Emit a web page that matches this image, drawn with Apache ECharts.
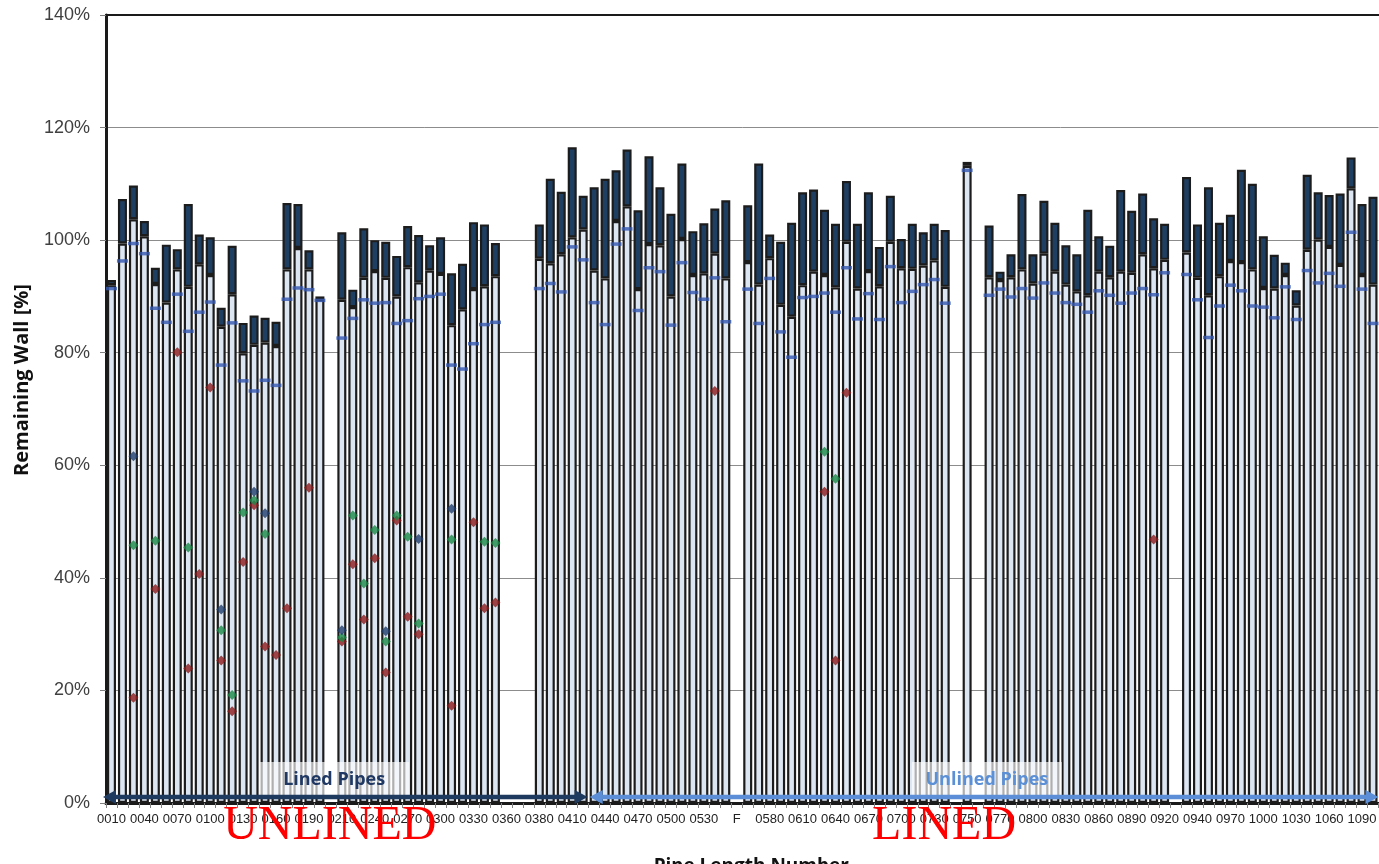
<!DOCTYPE html>
<html><head><meta charset="utf-8">
<script src="https://cdn.jsdelivr.net/npm/echarts@6/dist/echarts.min.js"></script>
<style>html,body{margin:0;padding:0;background:#fff;overflow:hidden}#c{width:1379px;height:864px}</style>
</head><body><div id="c"></div>
<script>
// ---------- DATA ----------
const categories = [
 "0010","0020","0030","0040","0050","0060","0070","0080","0090","0100","0110","0120","0130","0140","0150","0160","0170","0180","0190","0200",
 "0205",
 "0210","0220","0230","0240","0250","0260","0270","0280","0290","0300","0310","0320","0330","0340","0350","0360",
 "0370","0375",
 "0380","0390","0400","0410","0420","0430","0440","0450","0460","0470","0480","0490","0500","0510","0520","0530","0540","0550",
 "F",
 "0560","0570","0580","0590","0600","0610","0620","0630","0640","0650","0660","0670","0680","0690","0700","0710","0720","0730","0740",
 "0745","0750","0755",
 "0760","0770","0780","0790","0800","0810","0820","0830","0840","0850","0860","0870","0880","0890","0900","0910","0920",
 "0925",
 "0930","0940","0950","0960","0970","0980","0990","1000","1010","1020","1030","1040","1050","1060","1070","1080","1090","1100"
];
const yTicks = [0,20,40,60,80,100,120,140];

// top of dark segment (maximum remaining wall, %)
const maxWall = [
 92.9,107.3,109.7,103.4,95.1,99.2,98.4,106.4,101.0,100.5,88.0,99.0,85.3,86.6,86.2,85.5,106.6,106.4,98.2,90.0,
 null,
 101.4,91.2,102.1,100.0,99.7,97.2,102.5,100.9,99.1,100.5,94.1,95.8,103.2,102.8,99.5,
 null,null,null,
 102.8,110.9,108.6,116.5,107.9,109.4,110.9,112.4,116.1,105.3,114.9,109.4,104.7,113.6,101.6,103.0,105.6,107.1,
 null,
 106.2,113.6,101.0,99.7,103.1,108.5,109.0,105.4,102.9,110.5,102.9,108.5,98.8,107.9,100.2,102.9,101.4,102.9,101.8,
 null,113.9,null,
 102.6,94.4,97.5,108.2,97.5,107.0,103.1,99.1,97.5,105.4,100.7,99.0,108.9,105.2,108.3,103.9,102.9,
 null,
 111.2,102.8,109.4,103.1,104.5,112.5,110.0,100.7,97.4,96.0,91.1,111.6,108.5,108.0,108.3,114.7,106.4,107.7
];
// top of light segment (average remaining wall, %)
const avgWall = [
 92.0,99.4,103.7,100.7,92.2,88.9,94.8,91.7,95.7,93.8,84.6,90.4,79.9,81.4,81.8,81.2,94.8,98.6,94.8,89.5,
 null,
 89.4,88.1,93.3,94.5,93.3,90.0,95.2,92.5,94.6,94.0,84.9,87.7,91.3,91.8,93.6,
 null,null,null,
 96.7,95.9,97.5,100.5,101.9,94.6,93.2,103.4,106.0,91.3,99.3,99.1,90.0,100.2,93.8,94.1,97.6,93.2,
 null,
 96.1,92.1,96.8,88.5,86.4,92.0,94.4,93.8,91.6,99.7,91.4,94.5,91.8,99.7,95.0,94.9,95.5,96.4,91.7,
 null,113.2,null,
 93.4,92.9,93.4,94.8,92.3,97.6,94.4,92.1,90.9,90.2,94.4,93.4,94.4,94.2,97.5,95.0,96.5,
 null,
 97.8,93.3,90.2,93.6,96.3,96.1,94.8,91.5,91.4,93.8,88.4,98.3,100.1,98.8,95.6,109.2,93.8,92.1
];
// blue dash marker (%)
const dashWall = [
 91.4,96.3,99.4,97.6,87.9,85.4,90.4,83.8,87.2,89.0,77.8,85.3,75.0,73.2,75.1,74.2,89.5,91.5,91.2,89.3,
 null,
 82.6,86.1,89.4,88.8,88.9,85.2,85.7,89.6,90.0,90.4,77.8,77.1,81.6,85.0,85.4,
 null,null,null,
 91.4,92.3,90.8,98.8,96.5,88.9,85.0,99.3,102.0,87.5,95.1,94.4,84.9,96.0,90.7,89.5,93.3,85.5,
 null,
 91.3,85.2,93.2,83.7,79.2,89.8,90.0,90.6,87.2,95.1,86.0,90.5,85.9,95.3,88.9,90.9,92.1,93.0,88.8,
 null,112.4,null,
 90.2,91.3,89.9,91.4,89.7,92.4,90.6,88.9,88.6,87.2,91.0,90.2,88.8,90.6,91.4,90.3,94.2,
 null,
 93.9,89.4,82.7,88.3,92.0,91.0,88.3,88.1,86.2,91.7,85.9,94.6,92.4,94.1,91.8,101.4,91.3,85.2
];
// diamond markers [pipe, %]
const pitRed = [
 ["0030",18.7],["0050",38.0],["0070",80.1],["0080",23.9],["0090",40.7],["0100",73.8],["0110",25.3],["0120",16.3],
 ["0130",42.8],["0140",52.9],["0150",27.8],["0160",26.3],["0170",34.6],["0190",56.0],
 ["0210",28.7],["0220",42.4],["0230",32.6],["0240",43.5],["0250",23.2],["0260",50.2],["0270",33.1],["0280",30.0],
 ["0310",17.3],["0330",49.9],["0340",34.6],["0350",35.6],
 ["0540",73.2],["0630",55.3],["0640",25.3],["0650",72.9],["0910",46.8]
];
const pitGreen = [
 ["0030",45.8],["0050",46.6],["0080",45.4],["0110",30.7],["0120",19.2],["0130",51.6],["0140",53.8],["0150",47.8],
 ["0210",29.4],["0220",51.1],["0230",39.0],["0240",48.5],["0250",28.7],["0260",51.1],["0270",47.3],["0280",31.9],
 ["0310",46.8],["0340",46.4],["0350",46.2],
 ["0630",62.4],["0640",57.6]
];
const pitNavy = [
 ["0030",61.6],["0110",34.4],["0140",55.3],["0150",51.5],["0210",30.7],["0250",30.5],["0280",46.9],["0310",52.3]
];
const linedLabel = "Lined Pipes";
const unlinedLabel = "Unlined Pipes";

// ---------- CHART ----------
const NARROW = "'Liberation Sans','Arial',sans-serif";
const BOLD = "'Open Sans','Liberation Sans',sans-serif";
const darkPart = maxWall.map((m, i) => m == null ? null : +(m - avgWall[i]).toFixed(1));
const chart = echarts.init(document.getElementById('c'), null, {renderer: 'canvas', width: 1379, height: 864});
const diamond = (data, color) => ({
  type: 'scatter', data: data, symbol: 'diamond', symbolSize: [10, 10],
  itemStyle: {color: color}, z: 5, silent: true
});
chart.setOption({
  animation: false,
  grid: {left: 106, right: 0.5, top: 15, bottom: 61, containLabel: false, outerBoundsMode: 'none'},
  xAxis: [{
    type: 'category', data: categories, boundaryGap: true,
    axisLine: {lineStyle: {color: '#1a1a1a', width: 3}},
    axisTick: {show: true, interval: 0, length: 5, lineStyle: {color: '#808080'}},
    axisLabel: {interval: 2, fontFamily: NARROW, fontSize: 13, color: '#222', margin: 10, hideOverlap: false},
    name: 'Pipe Length Number', nameLocation: 'middle', nameGap: 54,
    nameTextStyle: {fontFamily: BOLD, fontWeight: 'bold', fontSize: 19, color: '#111', padding: [0, 0, 0, 18]}
  }, {
    type: 'category', data: categories, position: 'top',
    axisLine: {lineStyle: {color: '#1a1a1a', width: 2}}, axisTick: {show: false}, axisLabel: {show: false}
  }],
  yAxis: {
    type: 'value', min: yTicks[0], max: yTicks[yTicks.length - 1], interval: yTicks[1] - yTicks[0],
    axisLine: {show: true, lineStyle: {color: '#1a1a1a', width: 3}},
    axisTick: {show: true, length: 6, lineStyle: {color: '#808080'}},
    axisLabel: {formatter: '{value}%', fontFamily: NARROW, fontSize: 18, color: '#404040', margin: 16},
    splitLine: {lineStyle: {color: '#8c8c8c', width: 1}}
  },
  series: [
    {type: 'bar', stack: 'w', data: avgWall, barWidth: 9,
     itemStyle: {color: '#dce6f2', borderColor: '#1c1c1c', borderWidth: 2.2}},
    {type: 'bar', stack: 'w', data: darkPart, barWidth: 9,
     itemStyle: {color: '#1f3f62', borderColor: '#1c1c1c', borderWidth: 2.2}},
    {type: 'scatter', data: dashWall, symbol: 'rect', symbolSize: [11, 3.5],
     itemStyle: {color: '#3558b0'}, z: 4, silent: true},
    diamond(pitRed, '#8b1a1a'),
    diamond(pitGreen, '#1a8a46'),
    diamond(pitNavy, '#1f3d6b')
  ]
});

// annotations positioned through the axis scales
const x0 = chart.convertToPixel({xAxisIndex: 0}, 0);
const band = chart.convertToPixel({xAxisIndex: 0}, 1) - x0;
const xAt = i => x0 + i * band;
const yZero = chart.convertToPixel({yAxisIndex: 0}, 0);
const arrowY = yZero - 6;
const split = xAt(43.5);
const leftEdge = xAt(-0.5);
const rightEdge = xAt(categories.length - 0.5);

function arrow(xa, xb, color) {
  const hl = 13, hh = 7;
  return [
    {type: 'line', shape: {x1: xa + hl - 1, y1: arrowY, x2: xb - hl + 1, y2: arrowY},
     style: {stroke: color, lineWidth: 4.5}, z: 100},
    {type: 'polygon', shape: {points: [[xa, arrowY], [xa + hl, arrowY - hh], [xa + hl, arrowY + hh]]},
     style: {fill: color}, z: 100},
    {type: 'polygon', shape: {points: [[xb, arrowY], [xb - hl, arrowY - hh], [xb - hl, arrowY + hh]]},
     style: {fill: color}, z: 100}
  ];
}
function labelBox(cx, text, color) {
  return [
    {type: 'rect', shape: {x: cx - 75, y: yZero - 41, width: 150, height: 33},
     style: {fill: 'rgba(255,255,255,0.65)'}, z: 99},
    {type: 'text', x: cx, y: yZero - 23, z: 101,
     style: {text: text, fill: color, font: "bold 18px " + BOLD, align: 'center', verticalAlign: 'middle'}}
  ];
}
const g = [].concat(
  labelBox(xAt(20.3), linedLabel, '#1f3864'),
  labelBox(xAt(79.8), unlinedLabel, '#5b8fd6'),
  arrow(leftEdge - 3, split - 1, '#1f3a5f'),
  arrow(split + 1, rightEdge, '#5b8ed6'),
  [
    {type: 'text', x: xAt(19.9), y: yZero + 23, z: 102,
     style: {text: 'UNLINED', fill: '#ff0000', font: "48px 'Liberation Serif','DejaVu Serif',serif", align: 'center', verticalAlign: 'middle'}},
    {type: 'text', x: xAt(75.9), y: yZero + 23, z: 102,
     style: {text: 'LINED', fill: '#ff0000', font: "48px 'Liberation Serif','DejaVu Serif',serif", align: 'center', verticalAlign: 'middle'}},
    {type: 'text', x: 22, y: 380, rotation: Math.PI / 2, z: 102,
     style: {text: 'Remaining Wall [%]', fill: '#111', font: "bold 20px " + BOLD, align: 'center', verticalAlign: 'middle'}}
  ]
);
chart.setOption({graphic: g});
</script>
</body></html>
